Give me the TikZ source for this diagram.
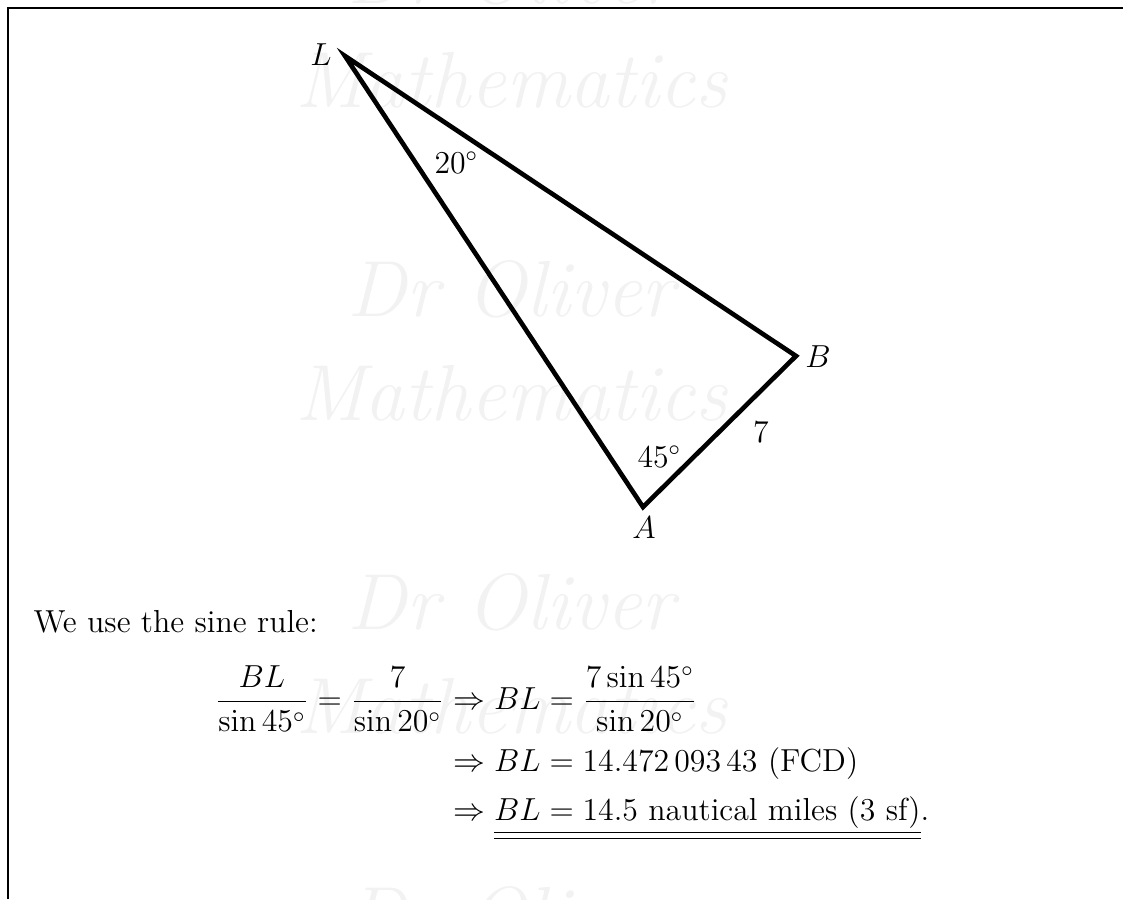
\documentclass[tikz,border=0pt,12pt]{standalone}
\usepackage{amsmath}
\begin{document}
\begin{tikzpicture}[x=0.377pt,y=-0.377pt,
  lbl/.style={inner sep=0pt},
  wm/.style={text=black!5, font=\fontsize{30}{36}\selectfont\itshape, inner sep=0pt},
  frame/.style={line width=0.65pt},
  tri/.style={line width=1.75pt}]
\useasboundingbox (0,0) rectangle (1123,899);
% watermark
\node[wm] (wm1) at (511,-24) {Dr Oliver};
\node[wm] (wm2) at (511,80) {Mathematics};
\node[wm] (wm3) at (511,289) {Dr Oliver};
\node[wm] (wm4) at (511,393) {Mathematics};
\node[wm] (wm5) at (511,602) {Dr Oliver};
\node[wm] (wm6) at (511,706) {Mathematics};
\node[wm] (wm7) at (511,915) {Dr Oliver};
% frame
\coordinate (f1) at (8,899);
\coordinate (f2) at (8,8);
\coordinate (f3) at (1123,8);
\draw[frame] (f1) -- (f2) -- (f3);
% triangle
\coordinate (L) at (345,56);
\coordinate (B) at (796,356);
\coordinate (A) at (643,507);
\draw[tri] (L) -- (B) -- (A) -- cycle;
\node[lbl, anchor=base] (lL) at (321,65) {$L$};
\node[lbl, anchor=base] (lB) at (818,367) {$B$};
\node[lbl, anchor=base] (lA) at (644,538) {$A$};
\node[lbl, anchor=base west] (a20) at (434,173) {$20^\circ$};
\node[lbl, anchor=base west] (a45) at (637,467) {$45^\circ$};
\node[lbl, anchor=base] (s7) at (761,442) {$7$};
% working
\node[lbl, anchor=base west] (intro) at (33,632) {We use the sine rule:};
\node[lbl, anchor=base east] (eq1a) at (445,709.5) {$\dfrac{BL}{\sin 45^\circ} = \dfrac{7}{\sin 20^\circ}$};
\node[lbl, anchor=base west] (eq1b) at (453,709.5) {$\Rightarrow BL = \dfrac{7\sin 45^\circ}{\sin 20^\circ}$};
\node[lbl, anchor=base west] (eq2) at (453,771) {$\Rightarrow BL = 14.472\,093\,43 \text{ (FCD)}$};
\node[lbl, anchor=base west] (eq3) at (453,820) {$\Rightarrow \underline{\underline{BL = 14.5 \text{ nautical miles (3 sf)}}}$.};
\end{tikzpicture}
\end{document}
